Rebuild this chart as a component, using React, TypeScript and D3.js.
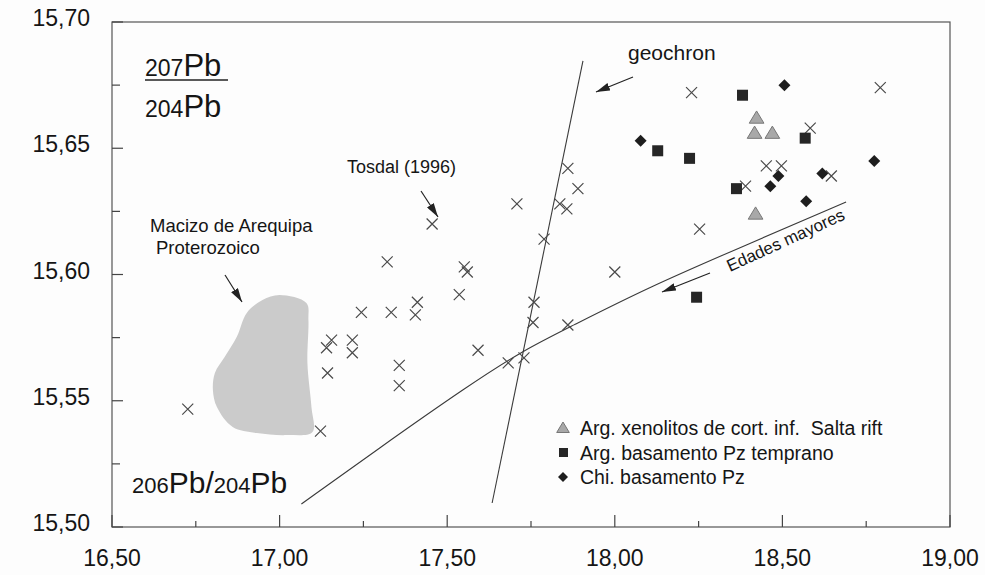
import React from 'react';
import * as d3 from 'd3';

// axis ticks
const xTicks = [16.5, 17.0, 17.5, 18.0, 18.5, 19.0];
const xMinor = [16.75, 17.25, 17.75, 18.25, 18.75];
const yTicks = [15.5, 15.55, 15.6, 15.65, 15.7];
const yMinor = [15.525, 15.575, 15.625, 15.675];

// Tosdal (1996) and other literature data (crosses)
const crosses: [number, number][] = [
  [16.726, 15.5467], [17.122, 15.538], [17.143, 15.561], [17.155, 15.574],
  [17.14, 15.571], [17.217, 15.574], [17.217, 15.569], [17.244, 15.585],
  [17.333, 15.585], [17.321, 15.605], [17.357, 15.564], [17.357, 15.556],
  [17.411, 15.589], [17.405, 15.584], [17.551, 15.603], [17.56, 15.601],
  [17.536, 15.592], [17.455, 15.62], [17.708, 15.628], [17.592, 15.57],
  [17.682, 15.565], [17.729, 15.567], [17.759, 15.589], [17.756, 15.581],
  [17.86, 15.58], [17.789, 15.614], [17.836, 15.628], [17.857, 15.626],
  [17.86, 15.642], [17.89, 15.634], [18.0, 15.601], [18.229, 15.672],
  [18.792, 15.674], [18.583, 15.658], [18.452, 15.643], [18.497, 15.643],
  [18.646, 15.639], [18.39, 15.635], [18.253, 15.618],
];

// Arg. basamento Pz temprano
const squares: [number, number][] = [
  [18.381, 15.671], [18.128, 15.649], [18.223, 15.646],
  [18.568, 15.654], [18.363, 15.634], [18.244, 15.591],
];

// Chi. basamento Pz
const diamonds: [number, number][] = [
  [18.506, 15.675], [18.077, 15.653], [18.774, 15.645], [18.619, 15.64],
  [18.488, 15.639], [18.464, 15.635], [18.571, 15.629],
];

// Arg. xenolitos de cort. inf. Salta rift
const triangles: [number, number][] = [
  [18.423, 15.662], [18.417, 15.656], [18.47, 15.656], [18.42, 15.624],
];

// Macizo de Arequipa field outline
const arequipaField: [number, number][] = [
  [17.0, 15.5919], [17.08, 15.5887], [17.086, 15.582], [17.083, 15.565],
  [17.095, 15.5475], [17.098, 15.5376], [17.021, 15.5364], [16.932, 15.5372],
  [16.86, 15.5396], [16.813, 15.5475], [16.801, 15.5543], [16.807, 15.561],
  [16.836, 15.5673], [16.872, 15.5752], [16.902, 15.5848], [16.949, 15.5899],
];

const geochron: [number, number][] = [[17.634, 15.5095], [17.905, 15.6846]];

// Pb growth curve ("Edades mayores" towards lower left)
const growthCurve: [number, number][] = [
  [17.065, 15.5091], [17.289, 15.5305], [17.565, 15.5562], [17.729, 15.5701],
  [17.86, 15.5788], [18.101, 15.595], [18.399, 15.6121], [18.69, 15.6287],
];

const legendLabels = [
  'Arg. xenolitos de cort. inf.\u00a0\u00a0Salta rift',
  'Arg. basamento Pz temprano',
  'Chi. basamento Pz',
];

const W = 985;
const H = 575;
const FONT = '"Liberation Sans", Arial, Helvetica, sans-serif';
const INK = '#3a3a3a';
const TXT = '#151515';

const fmt = (v: number) => v.toFixed(2).replace('.', ',');

const triPath = (s: number) => `M0,${-s}L${s * 1.05},${s * 0.75}L${-s * 1.05},${s * 0.75}Z`;
const diaPath = (s: number) => `M0,${-s}L${s},0L0,${s}L${-s},0Z`;

const App: React.FC = () => {
  const x = d3.scaleLinear().domain([16.5, 19.0]).range([112, 950]);
  const y = d3.scaleLinear().domain([15.5, 15.7]).range([527, 22]);
  const [x0, x1] = x.range();
  const [y0, y1] = y.range();

  const line = d3.line<[number, number]>().x(d => x(d[0])).y(d => y(d[1]));
  const curve = d3.line<[number, number]>().x(d => x(d[0])).y(d => y(d[1])).curve(d3.curveBasis);
  const blob = d3.line<[number, number]>().x(d => x(d[0])).y(d => y(d[1])).curve(d3.curveCatmullRomClosed.alpha(0.5));

  return (
    <svg width={W} height={H} style={{ position: 'absolute', left: 0, top: 0, background: '#fdfdfd' }} fontFamily={FONT}>
      <defs>
        <marker id="ah" viewBox="0 0 14 8" refX="14" refY="4" markerWidth="14" markerHeight="8" markerUnits="userSpaceOnUse" orient="auto">
          <path d="M0,0L14,4L0,8Z" fill="#222" />
        </marker>
      </defs>

      {/* field of Macizo de Arequipa */}
      <path d={blob(arequipaField) ?? ''} fill="#cbcbcb" stroke="none" />

      {/* frame */}
      <rect x={x0} y={y1} width={x1 - x0} height={y0 - y1} fill="none" stroke="#555" strokeWidth={1.2} />

      {/* x ticks */}
      {xTicks.map(t => (
        <g key={'xt' + t}>
          <line x1={x(t)} x2={x(t)} y1={y0} y2={y0 - 12} stroke="#444" strokeWidth={1.2} />
          <text x={x(t)} y={566} textAnchor="middle" fontSize={23} fill={TXT}>{fmt(t)}</text>
        </g>
      ))}
      {xMinor.map(t => (
        <line key={'xm' + t} x1={x(t)} x2={x(t)} y1={y0} y2={y0 - 6} stroke="#444" strokeWidth={1.2} />
      ))}

      {/* y ticks */}
      {yTicks.map(t => (
        <g key={'yt' + t}>
          <line x1={x0} x2={x0 + 11} y1={y(t)} y2={y(t)} stroke="#444" strokeWidth={1.2} />
          <text x={90} y={y(t) + 4} textAnchor="end" fontSize={23} fill={TXT}>{fmt(t)}</text>
        </g>
      ))}
      {yMinor.map(t => (
        <line key={'ym' + t} x1={x0} x2={x0 + 8} y1={y(t)} y2={y(t)} stroke="#444" strokeWidth={1.2} />
      ))}

      {/* reference lines */}
      <path d={line(geochron) ?? ''} fill="none" stroke={INK} strokeWidth={1.1} />
      <path d={curve(growthCurve) ?? ''} fill="none" stroke={INK} strokeWidth={1.1} />

      {/* data */}
      {crosses.map((d, i) => (
        <path key={'c' + i} transform={`translate(${x(d[0])},${y(d[1])})`} d="M-5.5,-5.5L5.5,5.5M-5.5,5.5L5.5,-5.5" stroke="#4a4a4a" strokeWidth={1.2} fill="none" />
      ))}
      {squares.map((d, i) => (
        <rect key={'s' + i} x={x(d[0]) - 5.5} y={y(d[1]) - 5.5} width={11} height={11} fill="#262626" />
      ))}
      {diamonds.map((d, i) => (
        <path key={'d' + i} transform={`translate(${x(d[0])},${y(d[1])})`} d={diaPath(6)} fill="#1e1e1e" />
      ))}
      {triangles.map((d, i) => (
        <path key={'t' + i} transform={`translate(${x(d[0])},${y(d[1])})`} d={triPath(7)} fill="#a8a8a8" stroke="#777" strokeWidth={1} />
      ))}

      {/* annotations */}
      <text x={145} y={76} fill={TXT}>
        <tspan fontSize={23}>207</tspan><tspan fontSize={31}>Pb</tspan>
      </text>
      <line x1={145} x2={228} y1={80} y2={80} stroke="#222" strokeWidth={1.3} />
      <text x={145} y={117} fill={TXT}>
        <tspan fontSize={23}>204</tspan><tspan fontSize={31}>Pb</tspan>
      </text>

      <text x={132} y={493} fill={TXT}>
        <tspan fontSize={22}>206</tspan><tspan fontSize={30}>Pb/</tspan><tspan fontSize={22}>204</tspan><tspan fontSize={30}>Pb</tspan>
      </text>

      <text x={628} y={60} fontSize={21} fill={TXT}>geochron</text>
      <line x1={633} y1={77} x2={596} y2={92} stroke="#222" strokeWidth={1.2} markerEnd="url(#ah)" />

      <text x={347} y={173} fontSize={18} fill={TXT}>Tosdal (1996)</text>
      <line x1={421} y1={191} x2={438} y2={217} stroke="#222" strokeWidth={1.2} markerEnd="url(#ah)" />

      <text x={150} y={232} fontSize={18.5} fill={TXT}>Macizo de Arequipa</text>
      <text x={156} y={254} fontSize={18.5} fill={TXT}>Proterozoico</text>
      <line x1={225} y1={275} x2={242} y2={302} stroke="#222" strokeWidth={1.2} markerEnd="url(#ah)" />

      <text transform="translate(730,272) rotate(-24.6)" fontSize={17} fill={TXT}>Edades mayores</text>
      <line x1={710} y1={273} x2={662} y2={292} stroke="#222" strokeWidth={1.2} markerEnd="url(#ah)" />

      {/* legend */}
      {legendLabels.map((lab, i) => {
        const cy = 428 + i * 24.5;
        return (
          <g key={'l' + i}>
            {i === 0 && <path transform={`translate(563,${cy})`} d={triPath(6)} fill="#a8a8a8" stroke="#777" />}
            {i === 1 && <rect x={559} y={cy - 4.5} width={9} height={9} fill="#262626" />}
            {i === 2 && <path transform={`translate(563,${cy})`} d={diaPath(5)} fill="#1e1e1e" />}
            <text x={580} y={cy + 7} fontSize={19.5} fill={TXT}>{lab}</text>
          </g>
        );
      })}
    </svg>
  );
};

export default App;
